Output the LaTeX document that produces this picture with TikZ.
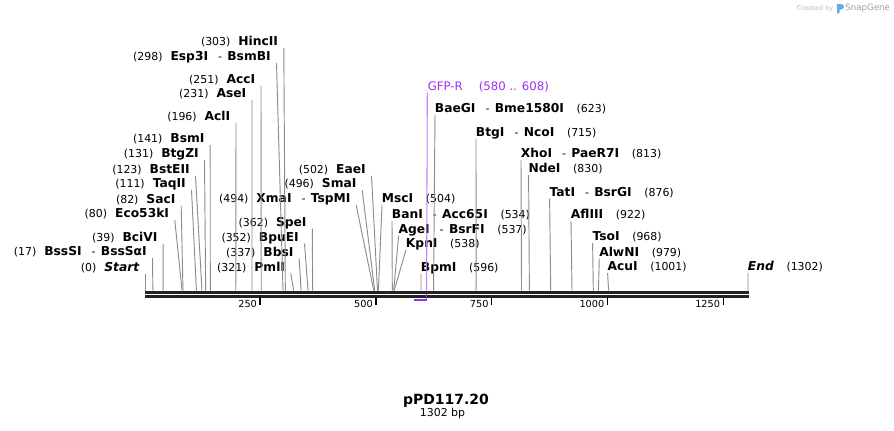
\documentclass[tikz,border=0pt]{standalone}
\usepackage{fontspec}
\setmainfont{DejaVu Sans}
\usetikzlibrary{calc}
\definecolor{my_black}{RGB}{34,34,34}
\definecolor{my_gray}{RGB}{140,140,140}
\definecolor{my_purple}{RGB}{155,48,240}
\definecolor{my_blue}{RGB}{90,175,230}
\definecolor{my_mark}{RGB}{190,190,190}
\newcommand{\enz}[1]{{\fontsize{9.2}{11}\selectfont\bfseries #1}}
\newcommand{\posgap}{\hspace{6pt}}
\newcommand{\namegap}{\hspace{9.5pt}}
\newcommand{\enzsep}{\hspace{7.5pt}-\hspace{4pt}}
\newcommand{\bpx}[1]{145+0.46313*#1}
\tikzset{
  lbl/.style = {inner sep=0pt, font=\fontsize{8.2}{10}\selectfont, text=black},
  lbl_l/.style = {lbl, anchor=base east},
  lbl_r/.style = {lbl, anchor=base west},
  cut/.style = {draw=my_gray, line width=0.7pt},
  tick/.style = {draw=black, line width=1.1pt},
  ticklbl/.style = {inner sep=0pt, anchor=base east, font=\fontsize{7.3}{9}\selectfont}
}

\begin{document}
\begin{tikzpicture}[x=0.75pt, y=-0.75pt]
  \useasboundingbox (0,0) rectangle (894,430);
  % cut sites on the backbone
  \foreach \n/\p in {Start/0, BssSI/17, BciVI/39, Eco53kI/80, SacI/82, TaqII/111, BstEII/123,
      BtgZI/131, BsmI/141, AclI/196, AseI/231, AccI/251, Esp3I/298, HincII/303, PmlI/321,
      BbsI/337, BpuEI/352, SpeI/362, XmaI/494, SmaI/496, EaeI/502, MscI/504, BanI/534,
      AgeI/537, KpnI/538, BpmI/596, BaeGI/623, BtgI/715, XhoI/813, NdeI/830, TatI/876,
      AflIII/922, TsoI/968, AlwNI/979, AcuI/1001, End/1302}
    \coordinate (s_\n) at ({\bpx{\p}},290.5);

  % labels left of their line
  \node[lbl_l] (HincII) at (278.3,45.7) {(303)\posgap\enz{HincII}};
  \node[lbl_l] (Esp3I) at (271,60.7) {(298)\posgap\enz{Esp3I}\enzsep\enz{BsmBI}};
  \node[lbl_l] (AccI) at (255.5,83.3) {(251)\posgap\enz{AccI}};
  \node[lbl_l] (AseI) at (246.5,97.3) {(231)\posgap\enz{AseI}};
  \node[lbl_l] (AclI) at (230.5,120.5) {(196)\posgap\enz{AclI}};
  \node[lbl_l] (BsmI) at (204.7,142.7) {(141)\posgap\enz{BsmI}};
  \node[lbl_l] (BtgZI) at (199,157.7) {(131)\posgap\enz{BtgZI}};
  \node[lbl_l] (BstEII) at (190,173.3) {(123)\posgap\enz{BstEII}};
  \node[lbl_l] (TaqII) at (186,187.7) {(111)\posgap\enz{TaqII}};
  \node[lbl_l] (SacI) at (175.7,203.3) {(82)\posgap\enz{SacI}};
  \node[lbl_l] (Eco53kI) at (169.3,217.7) {(80)\posgap\enz{Eco53kI}};
  \node[lbl_l] (BciVI) at (157.7,241) {(39)\posgap\enz{BciVI}};
  \node[lbl_l] (BssSI) at (147,255.7) {(17)\posgap\enz{BssSI}\enzsep\enz{BssSαI}};
  \node[lbl_l] (Start) at (139.5,271) {(0)\posgap\enz{\itshape Start}};
  \node[lbl_l] (EaeI) at (366,173.3) {(502)\posgap\enz{EaeI}};
  \node[lbl_l] (SmaI) at (356.7,187.7) {(496)\posgap\enz{SmaI}};
  \node[lbl_l] (XmaI) at (350.7,202.7) {(494)\posgap\enz{XmaI}\enzsep\enz{TspMI}};
  \node[lbl_l] (SpeI) at (306.8,226) {(362)\posgap\enz{SpeI}};
  \node[lbl_l] (BpuEI) at (299,241) {(352)\posgap\enz{BpuEI}};
  \node[lbl_l] (BbsI) at (293.7,256) {(337)\posgap\enz{BbsI}};
  \node[lbl_l] (PmlI) at (285.3,271) {(321)\posgap\enz{PmlI}};
  \foreach \n in {HincII, Esp3I, AccI, AseI, AclI, BsmI, BtgZI, BstEII, TaqII, SacI, Eco53kI,
      BciVI, BssSI, Start, EaeI, SmaI, XmaI, SpeI, BpuEI, BbsI, PmlI}
    \draw[cut] ([shift={(5.5,2.5)}]\n.base east) -- (s_\n);

  % labels right of their line
  \node[lbl_r] (MscI) at (381.7,202.7) {\enz{MscI}\namegap(504)};
  \node[lbl_r] (BanI) at (391.7,218.3) {\enz{BanI}\enzsep\enz{Acc65I}\namegap(534)};
  \node[lbl_r] (AgeI) at (398.3,233.3) {\enz{AgeI}\enzsep\enz{BsrFI}\namegap(537)};
  \node[lbl_r] (KpnI) at (405.7,247.3) {\enz{KpnI}\namegap(538)};
  \node[lbl_r] (BpmI) at (420.7,271) {\enz{BpmI}\namegap(596)};
  \node[lbl_r] (BaeGI) at (434.7,112) {\enz{BaeGI}\enzsep\enz{Bme1580I}\namegap(623)};
  \node[lbl_r] (BtgI) at (475.7,136) {\enz{BtgI}\enzsep\enz{NcoI}\namegap(715)};
  \node[lbl_r] (XhoI) at (520.7,157.7) {\enz{XhoI}\enzsep\enz{PaeR7I}\namegap(813)};
  \node[lbl_r] (NdeI) at (528.3,172.7) {\enz{NdeI}\namegap(830)};
  \node[lbl_r] (TatI) at (549.3,196) {\enz{TatI}\enzsep\enz{BsrGI}\namegap(876)};
  \node[lbl_r] (AflIII) at (570.7,218.3) {\enz{AflIII}\namegap(922)};
  \node[lbl_r] (TsoI) at (592.3,240.7) {\enz{TsoI}\namegap(968)};
  \node[lbl_r] (AlwNI) at (599,256) {\enz{AlwNI}\namegap(979)};
  \node[lbl_r] (AcuI) at (607.3,270.7) {\enz{AcuI}\namegap(1001)};
  \node[lbl_r] (End) at (747.7,270.7) {\enz{\itshape End}\namegap(1302)};
  \foreach \n in {MscI, BanI, AgeI, KpnI, BpmI, BaeGI, BtgI, XhoI, NdeI, TatI, AflIII,
      TsoI, AlwNI, AcuI, End}
    \draw[cut] ([shift={(0.3,2.5)}]\n.base west) -- (s_\n);

  % primer GFP-R
  \node[lbl_r, text=my_purple, font=\fontsize{8.8}{10}\selectfont] (GFP) at (427.5,90.7)
    {GFP-R\hspace{12pt}(580 .. 608)};
  \coordinate (p_top) at ({\bpx{608}},290.5);
  \coordinate (p_mid) at ({\bpx{608}},300);
  \coordinate (p_end) at ({\bpx{580}},300);
  \draw[my_purple!60, line width=0.8pt] ([shift={(-0.2,2)}]GFP.base west) -- (p_top);

  % backbone
  \draw[my_black, line width=2.55pt] (145,292.3) -- (748.5,292.3);
  \draw[my_black, line width=1.8pt] (145,296.5) -- (748.5,296.5);
  \draw[my_purple, line width=1pt] ({\bpx{608}},294) -- (p_mid) -- (p_end);
  \foreach \t in {250,500,750,1000,1250} {
    \coordinate (tk_\t) at ({\bpx{\t}-0.6},297.2);
    \draw[tick] (tk_\t) -- ++(0,7.3);
    \node[ticklbl] (tl_\t) at ([shift={(-3,10.2)}]tk_\t) {\t};
  }

  % title
  \node[inner sep=0pt, anchor=base, font=\fontsize{10.5}{12}\selectfont\bfseries] (title) at (446,404) {pPD117.20};
  \node[inner sep=0pt, anchor=base, font=\fontsize{8.2}{10}\selectfont] (bplen) at (442.5,416.5) {1302 bp};

  % watermark
  \node[inner sep=0pt, anchor=base west, text=my_mark, font=\fontsize{5}{6}\selectfont] (made) at (796.5,10) {Created by};
  \fill[my_blue] (837,13) -- (837,4) -- (841,4) .. controls (845,4) and (845,9.5) .. (841,9.5)
    -- (839.6,9.5) -- (839.6,13) -- cycle;
  \node[inner sep=0pt, anchor=base west, text=my_mark!85!black, font=\fontsize{6.5}{8}\selectfont] (snap) at (845,10.5) {SnapGene};
\end{tikzpicture}
\end{document}
